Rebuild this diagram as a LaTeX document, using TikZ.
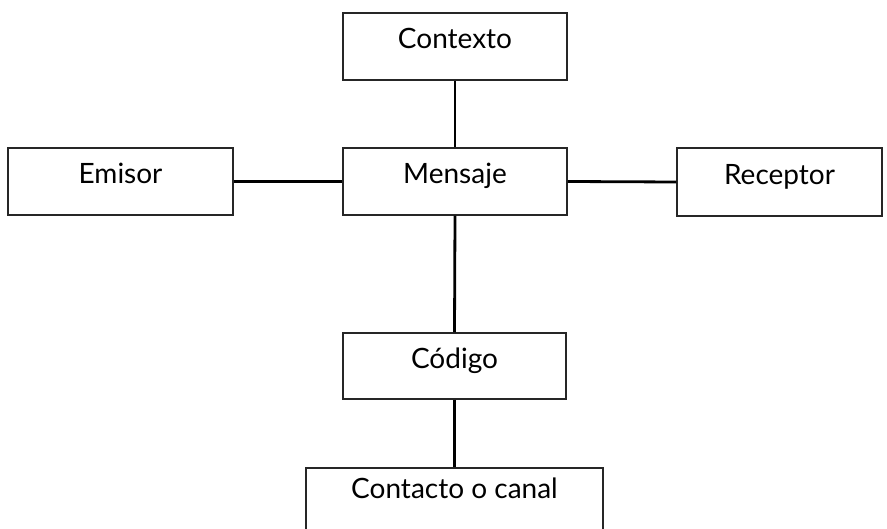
\documentclass[tikz,border=0pt]{standalone}
\usepackage{fontspec}
\setmainfont{Lato}
\begin{document}
\begin{tikzpicture}[x=1pt,y=-1pt,
  lbl/.style={font=\fontsize{28}{32}\selectfont,text height=0.7em,text depth=0.2em,inner sep=0pt},
  box/.style={lbl,draw=black!85,line width=1.5pt,fill=white},
  link/.style={draw=black,line width=2.8pt}]
\fill[white] (0,0) rectangle (887,529);
\useasboundingbox (0,0) rectangle (887,529);
\begin{scope}
\clip (0,0) rectangle (887,529);
\node[box,minimum width=224pt,minimum height=67pt] (ctx) at (455,46.5) {Contexto};
\node[box,minimum width=224pt,minimum height=67pt] (men) at (455,181.5) {Mensaje};
\node[box,minimum width=225pt,minimum height=67pt] (emi) at (120.5,181.5) {Emisor};
\node[box,minimum width=205pt,minimum height=68pt] (rec) at (779.5,182) {Receptor};
\node[box,minimum width=223pt,minimum height=66pt] (cod) at (454.5,366) {Código};
\node[box,minimum width=297pt,minimum height=90pt,anchor=north] (con) at (454.5,467) {};
\node[lbl] (conlbl) at (454.5,496) {Contacto o canal};
\draw[link] (ctx.south) -- (men.north);
\draw[link] (emi.east) -- (men.west);
\draw[link] (men.east) -- (rec.west);
\draw[link] (men.south) -- (cod.north);
\draw[link] (cod.south) -- (con.north);
\end{scope}
\end{tikzpicture}
\end{document}
